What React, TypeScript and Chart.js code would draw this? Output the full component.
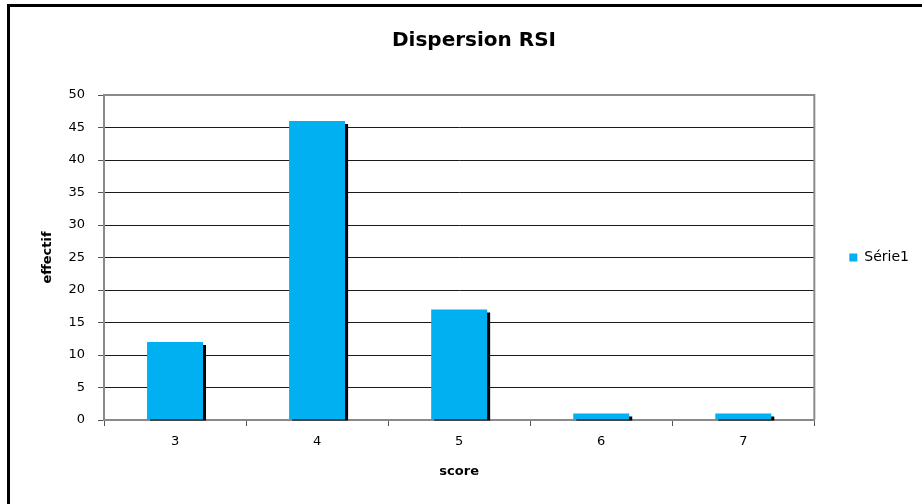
import React, { useEffect, useRef } from "react";
import { Chart, registerables } from "chart.js";

Chart.register(...registerables);

const chartTitle = "Dispersion RSI";
const categories = ["3", "4", "5", "6", "7"];
const seriesName = "Série1";
const seriesValues = [12, 46, 17, 1, 1];
const yMin = 0;
const yMax = 50;
const yStep = 5;
const xAxisTitle = "score";
const yAxisTitle = "effectif";

const FONT = "'DejaVu Sans', Verdana, sans-serif";

const barShadow = {
  id: "barShadow",
  beforeDatasetsDraw(chart: any) {
    const ctx = chart.ctx;
    chart.data.datasets.forEach((_ds: any, i: number) => {
      const meta = chart.getDatasetMeta(i);
      meta.data.forEach((el: any) => {
        const { x, y, base, width } = el.getProps(["x", "y", "base", "width"], true);
        ctx.save();
        ctx.fillStyle = "#000";
        ctx.fillRect(x - width / 2 + 3, y + 3, width, base - y - 2);
        ctx.restore();
      });
    });
  },
};

const plotFrame = {
  id: "plotFrame",
  beforeDatasetsDraw(chart: any) {
    const { ctx, chartArea } = chart;
    ctx.save();
    ctx.strokeStyle = "#8a8a8a";
    ctx.lineWidth = 2;
    ctx.beginPath();
    ctx.moveTo(chartArea.left, chartArea.top);
    ctx.lineTo(chartArea.right, chartArea.top);
    ctx.lineTo(chartArea.right, chartArea.bottom);
    ctx.stroke();
    ctx.restore();
  },
};

const legendToPlot = {
  id: "legendToPlot",
  afterLayout(chart: any) {
    const lg = chart.legend;
    if (!lg) return;
    lg.top = chart.chartArea.top;
    lg.bottom = chart.chartArea.bottom;
    lg.height = lg.bottom - lg.top;
  },
};

const titleText = {
  id: "titleText",
  afterDraw(chart: any) {
    const ctx = chart.ctx;
    ctx.save();
    ctx.font = `bold 20px ${FONT}`;
    ctx.fillStyle = "#000";
    ctx.textAlign = "center";
    ctx.textBaseline = "alphabetic";
    ctx.fillText(chartTitle, 474, 46);
    ctx.restore();
  },
};

export default function App() {
  const ref = useRef<HTMLCanvasElement | null>(null);

  useEffect(() => {
    if (!ref.current) return;
    const chart = new Chart(ref.current, {
      type: "bar",
      data: {
        labels: categories,
        datasets: [
          {
            label: seriesName,
            data: seriesValues,
            backgroundColor: "#00B0F0",
            borderWidth: 0,
            categoryPercentage: 1,
            barPercentage: 0.394,
          },
        ],
      },
      plugins: [barShadow, plotFrame, legendToPlot, titleText],
      options: {
        animation: false,
        responsive: false,
        maintainAspectRatio: false,
        devicePixelRatio: 1,
        layout: { padding: { top: 95, right: 3, bottom: 0, left: 0 } },
        plugins: {
          title: { display: false },
          tooltip: { enabled: false },
          legend: {
            display: true,
            position: "right",
            labels: {
              boxWidth: 8,
              boxHeight: 8,
              padding: 35,
              color: "#000",
              font: { family: FONT, size: 14 },
            },
          },
        },
        scales: {
          x: {
            offset: true,
            grid: {
              display: true,
              offset: true,
              drawOnChartArea: false,
              drawTicks: true,
              tickLength: 6,
              tickColor: "#555",
            },
            border: { display: true, color: "#8a8a8a", width: 2 },
            ticks: { color: "#000", padding: 8, font: { family: FONT, size: 13 } },
            title: {
              display: true,
              text: xAxisTitle,
              color: "#000",
              font: { family: FONT, size: 13, weight: "bold" },
              padding: { top: 0, bottom: 25 },
            },
            afterFit(scale: any) {
              scale.height = 84;
            },
          },
          y: {
            min: yMin,
            max: yMax,
            grid: {
              color: (c: any) => (c.tick && c.tick.value === yMax ? "rgba(0,0,0,0)" : "#1a1a1a"),
              lineWidth: 1,
              drawTicks: true,
              tickLength: 6,
              tickColor: "#555",
            },
            border: { display: true, color: "#8a8a8a", width: 2 },
            ticks: {
              stepSize: yStep,
              color: "#000",
              padding: 13,
              font: { family: FONT, size: 13 },
            },
            title: {
              display: true,
              text: yAxisTitle,
              color: "#000",
              font: { family: FONT, size: 13, weight: "bold" },
              padding: { top: 40, bottom: 0 },
            },
            afterFit(scale: any) {
              scale.width = 104;
            },
          },
        },
      },
    });
    return () => chart.destroy();
  }, []);

  return (
    <div style={{ position: "absolute", left: 0, top: 0, width: 922, height: 504, overflow: "hidden", background: "#fff" }}>
      <canvas ref={ref} width={922} height={504} style={{ position: "absolute", left: 0, top: 0, width: 922, height: 504 }} />
      <div
        style={{
          position: "absolute",
          left: 7,
          top: 4,
          width: 912,
          height: 497,
          borderLeft: "3px solid #000",
          borderTop: "3px solid #000",
          pointerEvents: "none",
        }}
      />
    </div>
  );
}
